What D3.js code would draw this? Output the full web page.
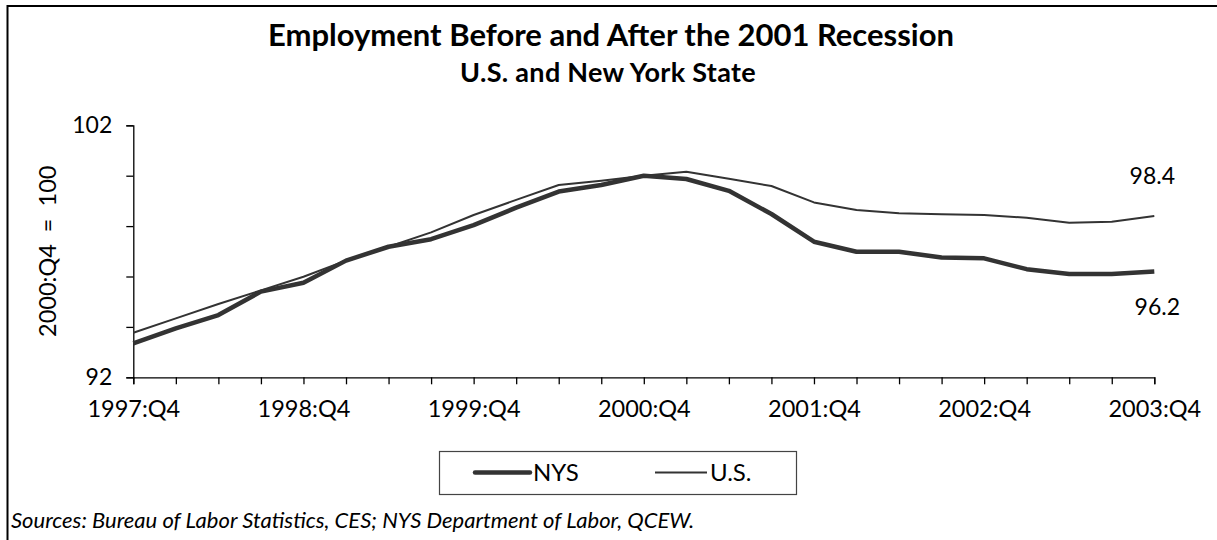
<!DOCTYPE html>
<html>
<head>
<meta charset="utf-8">
<script src="https://cdn.jsdelivr.net/npm/d3@7/dist/d3.min.js"></script>
<style>
  html, body { margin: 0; padding: 0; background: #fff; }
  svg { display: block; font-family: Lato, "Open Sans", sans-serif; }
</style>
</head>
<body>
<svg id="chart" width="1217" height="540"></svg>
<script>
// Quarterly employment index, 2000:Q4 = 100
const quarters = [
  "1997:Q4", "1998:Q1", "1998:Q2", "1998:Q3", "1998:Q4",
  "1999:Q1", "1999:Q2", "1999:Q3", "1999:Q4",
  "2000:Q1", "2000:Q2", "2000:Q3", "2000:Q4",
  "2001:Q1", "2001:Q2", "2001:Q3", "2001:Q4",
  "2002:Q1", "2002:Q2", "2002:Q3", "2002:Q4",
  "2003:Q1", "2003:Q2", "2003:Q3", "2003:Q4"
];
const nys = [93.35, 93.94, 94.47, 95.40, 95.75, 96.63, 97.18, 97.48, 98.04, 98.73,
             99.37, 99.63, 100.0, 99.87, 99.40, 98.48, 97.38, 96.98, 96.98, 96.75,
             96.72, 96.29, 96.10, 96.10, 96.2];
const us  = [93.77, 94.34, 94.91, 95.45, 95.99, 96.63, 97.18, 97.75, 98.44, 99.04,
             99.63, 99.80, 100.0, 100.16, 99.88, 99.59, 98.94, 98.64, 98.51, 98.47,
             98.44, 98.33, 98.13, 98.17, 98.4];
const xTickLabels = ["1997:Q4", "1998:Q4", "1999:Q4", "2000:Q4", "2001:Q4", "2002:Q4", "2003:Q4"];
const yTicks = [92, 94, 96, 98, 100, 102];
const yTickLabels = [92, 102];

const svg = d3.select("#chart");
const plotLeft = 133.3, plotRight = 1154.3, plotTop = 125.3, plotBottom = 377.3;

const x = d3.scalePoint().domain(quarters).range([plotLeft, plotRight]);
const y = d3.scaleLinear().domain([92, 102]).range([plotBottom, plotTop]);

// outer frame (runs off the right and bottom edges)
svg.append("rect")
  .attr("x", 7.5).attr("y", 6).attr("width", 1240).attr("height", 560)
  .attr("fill", "none").attr("stroke", "#000").attr("stroke-width", 2);

// titles
svg.append("text").attr("x", 611).attr("y", 46).attr("text-anchor", "middle")
  .attr("font-size", 31).attr("font-weight", "bold").attr("fill", "#000")
  .text("Employment Before and After the 2001 Recession");
svg.append("text").attr("x", 608).attr("y", 82).attr("text-anchor", "middle")
  .attr("font-size", 27).attr("font-weight", "bold").attr("fill", "#000")
  .style("letter-spacing", "0.3px")
  .text("U.S. and New York State");

// y axis
const yAxis = d3.axisLeft(y).tickValues(yTicks).tickSize(7).tickPadding(14)
  .tickFormat(d => yTickLabels.includes(d) ? d : "");
const gy = svg.append("g").attr("transform", `translate(${plotLeft},0)`).call(yAxis);
gy.select(".domain").attr("stroke", "#000").attr("stroke-width", 1.3);
gy.selectAll(".tick line").attr("stroke", "#000").attr("stroke-width", 1.3);
gy.selectAll(".tick text").attr("font-size", 23).attr("font-family", "Lato, sans-serif").attr("fill", "#000");

// x axis
const xAxis = d3.axisBottom(x).tickSize(7).tickPadding(16)
  .tickFormat(d => xTickLabels.includes(d) ? d : "");
const gx = svg.append("g").attr("transform", `translate(0,${plotBottom})`).call(xAxis);
gx.select(".domain").attr("stroke", "#000").attr("stroke-width", 1.3);
gx.selectAll(".tick line").attr("stroke", "#000").attr("stroke-width", 1.3);
gx.selectAll(".tick text").attr("font-size", 23.5).attr("font-family", "Lato, sans-serif").attr("fill", "#000");

// y axis title
svg.append("text")
  .attr("transform", `translate(56,${(plotTop + plotBottom) / 2}) rotate(-90)`)
  .attr("text-anchor", "middle").attr("font-size", 23.5).attr("fill", "#000")
  .style("white-space", "pre")
  .text("2000:Q4  =  100");

// series lines
const line = d3.line().x((d, i) => x(quarters[i])).y(d => y(d));
svg.append("path").datum(us).attr("d", line)
  .attr("fill", "none").attr("stroke", "#333").attr("stroke-width", 2).attr("stroke-linejoin", "round");
svg.append("path").datum(nys).attr("d", line)
  .attr("fill", "none").attr("stroke", "#333").attr("stroke-width", 4.5).attr("stroke-linejoin", "round");

// end-value labels
const last = quarters.length - 1;
svg.append("text").attr("x", x(quarters[last]) - 2).attr("y", y(us[last]) - 32)
  .attr("text-anchor", "middle").attr("font-size", 23).attr("fill", "#000")
  .text(us[last].toFixed(1));
svg.append("text").attr("x", x(quarters[last]) + 3).attr("y", y(nys[last]) + 44)
  .attr("text-anchor", "middle").attr("font-size", 23).attr("fill", "#000")
  .text(nys[last].toFixed(1));

// legend
const lg = svg.append("g");
lg.append("rect").attr("x", 439.5).attr("y", 451.5).attr("width", 357).attr("height", 43)
  .attr("fill", "#fff").attr("stroke", "#444").attr("stroke-width", 1.2);
lg.append("line").attr("x1", 475).attr("x2", 530).attr("y1", 472.5).attr("y2", 472.5)
  .attr("stroke", "#333").attr("stroke-width", 4.5).attr("stroke-linecap", "round");
lg.append("text").attr("x", 533).attr("y", 481).attr("font-size", 24).attr("fill", "#000").text("NYS");
lg.append("line").attr("x1", 655).attr("x2", 707).attr("y1", 472.5).attr("y2", 472.5)
  .attr("stroke", "#333").attr("stroke-width", 2);
lg.append("text").attr("x", 710).attr("y", 481).attr("font-size", 24).attr("fill", "#000").text("U.S.");

// source note
svg.append("text").attr("x", 11).attr("y", 528).attr("font-size", 22)
  .attr("font-style", "italic").attr("fill", "#000")
  .text("Sources: Bureau of Labor Statistics, CES; NYS Department of Labor, QCEW.");
</script>
</body>
</html>
